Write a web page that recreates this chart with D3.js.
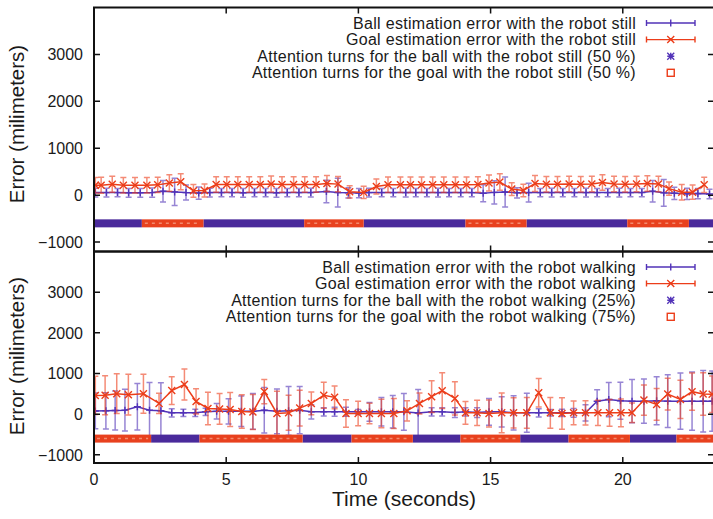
<!DOCTYPE html>
<html>
<head>
<meta charset="utf-8">
<script src="https://cdn.jsdelivr.net/npm/d3@7"></script>
<style>
  body { margin: 0; background: #fff; }
  svg text { font-family: "Liberation Sans", Arial, Helvetica, sans-serif; fill: #1a1a1a; }
</style>
</head>
<body>
<svg id="chart" width="713" height="519"></svg>
<script>
// ---- data ----
const xTicks = [0, 5, 10, 15, 20];
const yTicks = [-1000, 0, 1000, 2000, 3000];
const turnLevel = -600;

// robot still
const stillBallTime = [0.05, 0.47, 0.89, 1.31, 1.75, 2.2, 2.61, 3.05, 3.48, 3.96, 4.38, 4.82, 5.22, 5.64, 6.07,
  6.49, 6.9, 7.31, 7.75, 8.2, 8.79, 9.22, 9.62, 10.02, 10.4, 10.88, 11.32, 11.79, 12.17, 12.59, 13.01, 13.43,
  13.87, 14.29, 14.72, 15.14, 15.55, 16.0, 16.44, 16.88, 17.31, 17.73, 18.17, 18.61, 19.03, 19.43, 19.87,
  20.29, 20.72, 21.13, 21.55, 21.95, 22.43, 22.84, 23.28];
const stillBallError = [55, 55, 55, 50, 50, 55, 85, 70, 55, 45, 55, 55, 55, 50, 55, 55, 50, 55, 55, 55, 80, 55,
  50, 45, 55, 55, 55, 55, 55, 55, 55, 55, 55, 55, 40, 60, 70, 50, 55, 55, 55, 55, 55, 55, 55, 55, 55, 55, 55,
  85, 50, 40, 30, 35, 25];
const stillBallDev = [95, 95, 90, 95, 95, 100, 230, 290, 160, 130, 95, 90, 90, 95, 90, 90, 95, 90, 90, 95, 240,
  305, 110, 100, 95, 90, 90, 95, 90, 90, 95, 90, 90, 90, 180, 250, 320, 110, 200, 90, 95, 90, 90, 95, 90, 90,
  95, 90, 90, 230, 285, 130, 120, 110, 100];

const stillGoalTime = [0.05, 0.27, 0.69, 1.11, 1.55, 2.0, 2.41, 2.85, 3.28, 3.76, 4.18, 4.62, 5.02, 5.44, 5.87,
  6.29, 6.7, 7.11, 7.55, 7.97, 8.4, 8.81, 9.23, 9.67, 10.2, 10.68, 11.12, 11.59, 11.97, 12.39, 12.81, 13.23,
  13.67, 14.09, 14.52, 14.94, 15.35, 15.8, 16.24, 16.68, 17.11, 17.53, 17.97, 18.41, 18.83, 19.23, 19.67,
  20.09, 20.52, 20.93, 21.35, 21.75, 22.23, 22.64, 23.08];
const stillGoalError = [214, 214, 235, 214, 214, 214, 220, 260, 285, 93, 100, 228, 228, 228, 228, 228, 240,
  228, 228, 228, 228, 250, 236, 71, 60, 185, 225, 225, 225, 225, 225, 225, 225, 225, 230, 260, 280, 130, 100,
  250, 235, 235, 240, 235, 240, 270, 240, 235, 240, 250, 240, 140, 65, 65, 220];
const stillGoalDev = [165, 170, 170, 165, 165, 165, 165, 175, 170, 135, 140, 165, 165, 165, 165, 165, 170, 165,
  165, 165, 165, 170, 165, 130, 130, 160, 165, 165, 165, 165, 165, 165, 165, 165, 165, 170, 175, 135, 135,
  170, 165, 165, 165, 165, 165, 165, 165, 165, 165, 165, 165, 140, 165, 150, 160];

const stillBallTurns = [[0, 1.81], [4.14, 7.95], [10.2, 14.05], [16.36, 20.17], [22.5, 23.45]];
const stillGoalTurns = [[1.81, 4.14], [7.95, 10.2], [14.05, 16.36], [20.17, 22.5]];

// robot walking
const walkBallTime = [0.05, 0.45, 0.8, 1.17, 1.64, 2.1, 2.53, 2.94, 3.38, 3.83, 4.22, 4.64, 5.09, 5.57, 6.01,
  6.44, 6.92, 7.36, 7.78, 8.22, 8.69, 9.1, 9.53, 9.99, 10.42, 10.87, 11.3, 11.72, 12.26, 12.77, 13.17, 13.65,
  14.05, 14.49, 14.94, 15.42, 15.87, 16.37, 16.82, 17.26, 17.7, 18.14, 18.59, 19.03, 19.47, 19.91, 20.35,
  20.8, 21.28, 21.7, 22.18, 22.62, 23.04, 23.38];
const walkBallError = [80, 83, 90, 99, 182, 99, 83, 33, 33, 33, 58, 70, 70, 70, 70, 99, 70, 83, 99, 58, 58, 58,
  58, 58, 58, 58, 58, 58, 30, 58, 58, 40, 58, 40, 58, 58, 33, 33, 33, 33, 33, 33, 33, 320, 360, 330, 320, 320,
  330, 320, 320, 320, 320, 320];
const walkBallDev = [440, 445, 480, 515, 570, 680, 690, 100, 90, 90, 90, 190, 310, 375, 440, 560, 550, 600, 580,
  175, 100, 110, 110, 60, 230, 350, 400, 450, 580, 100, 100, 120, 100, 120, 330, 370, 420, 480, 100, 80, 90,
  110, 200, 280, 420, 455, 530, 545, 590, 650, 690, 715, 755, 740];

const walkGoalTime = [0.05, 0.42, 0.86, 1.3, 1.87, 2.46, 2.94, 3.42, 3.86, 4.31, 4.75, 5.15, 5.59, 6.01, 6.44,
  6.92, 7.36, 7.78, 8.22, 8.69, 9.1, 9.53, 9.99, 10.42, 10.87, 11.34, 11.84, 12.31, 12.77, 13.17, 13.65,
  14.05, 14.49, 14.94, 15.42, 15.87, 16.37, 16.82, 17.26, 17.7, 18.14, 18.59, 19.06, 19.5, 19.93, 20.35,
  20.8, 21.28, 21.7, 22.18, 22.62, 23.04, 23.38];
const walkGoalError = [460, 465, 505, 480, 505, 265, 580, 730, 315, 140, 130, 115, 65, 55, 555, 17, 35, 150, 265,
  465, 415, 17, 17, 17, 17, 17, 83, 264, 430, 579, 388, 33, 33, 17, 33, 33, 33, 529, 33, 17, 33, 33, 33, 33,
  33, 33, 347, 240, 496, 364, 554, 496, 490];
const walkGoalDev = [470, 480, 490, 500, 480, 250, 340, 380, 310, 400, 380, 420, 410, 430, 300, 550, 430, 440,
  280, 320, 280, 340, 300, 250, 350, 370, 250, 260, 390, 440, 410, 280, 310, 330, 490, 370, 380, 350, 380,
  390, 290, 300, 310, 330, 340, 240, 370, 390, 390, 470, 460, 520, 450];

const walkBallTurns = [[2.16, 3.99], [7.89, 9.74], [12.06, 13.86], [16.12, 17.95], [20.27, 22.03]];
const walkGoalTurns = [[0, 2.16], [3.99, 7.89], [9.74, 12.06], [13.86, 16.12], [17.95, 20.27], [22.03, 23.45]];

const stillLabels = [
  'Ball estimation error with the robot still',
  'Goal estimation error with the robot still',
  'Attention turns for the ball with the robot still (50 %)',
  'Attention turns for the goal with the robot still (50 %)'
];
const walkLabels = [
  'Ball estimation error with the robot walking',
  'Goal estimation error with the robot walking',
  'Attention turns for the ball with the robot walking (25%)',
  'Attention turns for the goal with the robot walking (75%)'
];

// ---- layout ----
const PLOT = { left: 94, right: 714 };
const X_DOMAIN = [0, 23.45];
const Y_DOMAIN = [-1200, 4000];
const BALL = '#5233b8';
const GOAL = '#ec3d1a';
const BALL_BAND = '#4a2a9b';
const GOAL_BAND = '#e8411e';
const TICK = 6;

const svg = d3.select('#chart');
svg.append('rect').attr('width', 713).attr('height', 519).attr('fill', '#fff');

const x = d3.scaleLinear().domain(X_DOMAIN).range([PLOT.left, PLOT.right]);

const zip = (t, v, d) => t.map((tt, i) => ({ t: tt, v: v[i], d: d[i] }));

function drawErrorLines(g, y, pts, color, marker) {
  const line = d3.line().x(p => x(p.t)).y(p => y(p.v));
  g.append('path')
    .datum(pts)
    .attr('fill', 'none')
    .attr('stroke', color)
    .attr('stroke-width', 1.5)
    .attr('d', line);

  // error bars with caps
  g.append('g')
    .attr('stroke', color)
    .attr('stroke-opacity', 0.6)
    .attr('stroke-width', 1.5)
    .attr('fill', 'none')
    .selectAll('path')
    .data(pts)
    .join('path')
    .attr('d', (p) => {
      const cx = x(p.t);
      const y0 = y(p.v - p.d);
      const y1 = y(p.v + p.d);
      return `M${cx},${y0}V${y1}M${cx - 3},${y0}H${cx + 3}M${cx - 3},${y1}H${cx + 3}`;
    });

  g.append('g')
    .attr('stroke', color)
    .attr('stroke-width', 1.4)
    .selectAll('path')
    .data(pts)
    .join('path')
    .attr('d', p => marker(x(p.t), y(p.v)));
}

const plus = (cx, cy) => `M${cx - 3.5},${cy}H${cx + 3.5}M${cx},${cy - 3.5}V${cy + 3.5}`;
const cross = (cx, cy) => `M${cx - 3.5},${cy - 3.5}L${cx + 3.5},${cy + 3.5}M${cx - 3.5},${cy + 3.5}L${cx + 3.5},${cy - 3.5}`;
const star = (cx, cy) => `${plus(cx, cy)}${cross(cx, cy)}`;

function drawTurns(g, y, ballSegs, goalSegs) {
  const cy = y(turnLevel);
  g.append('g')
    .selectAll('rect')
    .data(ballSegs)
    .join('rect')
    .attr('x', s => x(s[0]))
    .attr('width', s => x(s[1]) - x(s[0]))
    .attr('y', cy - 4)
    .attr('height', 8)
    .attr('fill', BALL_BAND);

  const goal = g.append('g');
  goal.selectAll('rect')
    .data(goalSegs)
    .join('rect')
    .attr('x', s => x(s[0]))
    .attr('width', s => x(s[1]) - x(s[0]))
    .attr('y', cy - 4)
    .attr('height', 8)
    .attr('fill', GOAL_BAND);
  goal.selectAll('line')
    .data(goalSegs)
    .join('line')
    .attr('x1', s => x(s[0]) + 3)
    .attr('x2', s => x(s[1]) - 3)
    .attr('y1', cy)
    .attr('y2', cy)
    .attr('stroke', '#f38a6e')
    .attr('stroke-width', 1.5)
    .attr('stroke-dasharray', '3 4');
}

function drawLegend(g, top, labels) {
  const rowY = i => top + 15.5 + i * 16.6;
  const sx0 = 646.5;
  const sx1 = 695;
  const mid = (sx0 + sx1) / 2;

  g.selectAll('text.leg')
    .data(labels)
    .join('text')
    .attr('class', 'leg')
    .attr('x', 636)
    .attr('y', (d, i) => rowY(i))
    .attr('dy', '0.35em')
    .attr('text-anchor', 'end')
    .attr('font-size', 16)
    .attr('letter-spacing', '0.3px')
    .text(d => d);

  [[BALL, plus], [GOAL, cross]].forEach(([color, marker], i) => {
    const cy = rowY(i);
    g.append('path')
      .attr('fill', 'none')
      .attr('stroke', color)
      .attr('stroke-width', 1.4)
      .attr('d', `M${sx0},${cy}H${sx1}M${sx0},${cy - 3}V${cy + 3}M${sx1},${cy - 3}V${cy + 3}${marker(mid, cy)}`);
  });
  g.append('path')
    .attr('stroke', BALL)
    .attr('stroke-width', 1.4)
    .attr('d', star(mid, rowY(2)));
  g.append('rect')
    .attr('x', mid - 3.5)
    .attr('y', rowY(3) - 3.5)
    .attr('width', 7)
    .attr('height', 7)
    .attr('fill', 'none')
    .attr('stroke', GOAL)
    .attr('stroke-width', 1.4);
}

function drawPanel(cfg, idx) {
  const y = d3.scaleLinear().domain(Y_DOMAIN).range([cfg.bottom, cfg.top]);
  const g = svg.append('g').attr('class', `panel-${idx}`);

  const clipId = `clip-${idx}`;
  svg.append('clipPath').attr('id', clipId)
    .append('rect')
    .attr('x', PLOT.left).attr('y', cfg.top)
    .attr('width', PLOT.right - PLOT.left).attr('height', cfg.bottom - cfg.top);

  const data = g.append('g').attr('clip-path', `url(#${clipId})`);
  drawErrorLines(data, y, zip(cfg.ballT, cfg.ballV, cfg.ballD), BALL, plus);
  drawErrorLines(data, y, zip(cfg.goalT, cfg.goalV, cfg.goalD), GOAL, cross);
  drawTurns(data, y, cfg.ballTurns, cfg.goalTurns);

  // inward ticks on all four sides
  const ticks = g.append('g').attr('stroke', '#111').attr('stroke-width', 1.5);
  ticks.selectAll('path.xt')
    .data(xTicks)
    .join('path')
    .attr('class', 'xt')
    .attr('d', t => `M${x(t)},${cfg.bottom}v${-TICK}M${x(t)},${cfg.top}v${TICK}`);
  ticks.selectAll('path.yt')
    .data(yTicks)
    .join('path')
    .attr('class', 'yt')
    .attr('d', t => `M${PLOT.left},${y(t)}h${TICK}M${PLOT.right},${y(t)}h${-TICK}`);

  g.selectAll('text.ytl')
    .data(yTicks)
    .join('text')
    .attr('class', 'ytl')
    .attr('x', 83)
    .attr('y', t => y(t))
    .attr('dy', '0.36em')
    .attr('text-anchor', 'end')
    .attr('font-size', 16)
    .text(t => d3.format('d')(t).replace('-', '\u2212'));

  g.append('rect')
    .attr('x', PLOT.left).attr('y', cfg.top)
    .attr('width', PLOT.right - PLOT.left).attr('height', cfg.bottom - cfg.top)
    .attr('fill', 'none')
    .attr('stroke', '#111')
    .attr('stroke-width', 2);

  g.append('text')
    .attr('transform', `translate(17,${cfg.labelY}) rotate(-90)`)
    .attr('dy', '0.35em')
    .attr('text-anchor', 'middle')
    .attr('font-size', 20.5)
    .text('Error (milimeters)');

  drawLegend(g, cfg.top, cfg.labels);
  return y;
}

drawPanel({
  top: 7.5, bottom: 251.5, labelY: 124,
  ballT: stillBallTime, ballV: stillBallError, ballD: stillBallDev,
  goalT: stillGoalTime, goalV: stillGoalError, goalD: stillGoalDev,
  ballTurns: stillBallTurns, goalTurns: stillGoalTurns,
  labels: stillLabels
}, 0);

drawPanel({
  top: 251.5, bottom: 463, labelY: 356,
  ballT: walkBallTime, ballV: walkBallError, ballD: walkBallDev,
  goalT: walkGoalTime, goalV: walkGoalError, goalD: walkGoalDev,
  ballTurns: walkBallTurns, goalTurns: walkGoalTurns,
  labels: walkLabels
}, 1);

// x tick labels and title on the lower panel only
svg.append('g')
  .selectAll('text')
  .data(xTicks)
  .join('text')
  .attr('x', t => x(t))
  .attr('y', 485)
  .attr('text-anchor', 'middle')
  .attr('font-size', 16)
  .text(t => t);

svg.append('text')
  .attr('x', 404)
  .attr('y', 506)
  .attr('text-anchor', 'middle')
  .attr('font-size', 21)
  .text('Time (seconds)');
</script>
</body>
</html>
